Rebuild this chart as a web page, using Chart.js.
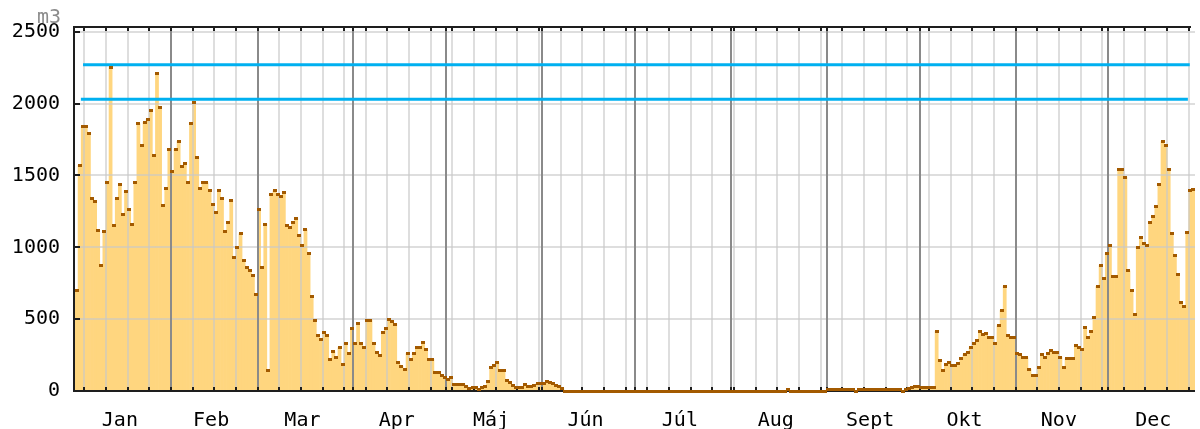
<!DOCTYPE html>
<html>
<head>
<meta charset="utf-8">
<script src="https://cdn.jsdelivr.net/npm/chart.js@4.4.1/dist/chart.umd.min.js"></script>
<style>
  html, body { margin: 0; padding: 0; background: #fff; }
</style>
</head>
<body>
<canvas id="chartSpotreba" width="1200" height="429"></canvas>
<script>
// Popisky a členenie osi x
const months = ['Jan', 'Feb', 'Mar', 'Apr', 'Máj', 'Jún', 'Júl', 'Aug', 'Sept', 'Okt', 'Nov', 'Dec'];
const monthStarts = [0, 31, 59, 90, 120, 151, 181, 212, 243, 273, 304, 334, 365];
const yTicks = [0, 500, 1000, 1500, 2000, 2500];

// Denné hodnoty (m3) po mesiacoch
const jan = [700, 1570, 1840, 1840, 1790, 1340, 1320, 1120, 875, 1110, 1450, 2250, 1150, 1340, 1440, 1230,
  1390, 1260, 1160, 1450, 1860, 1710, 1870, 1890, 1950, 1640, 2210, 1970, 1290, 1410, 1680];
const feb = [1530, 1684, 1737, 1560, 1585, 1448, 1858, 2011, 1627, 1407, 1448, 1448, 1393, 1299, 1244, 1393,
  1340, 1107, 1175, 1324, 930, 999, 1093, 905, 861, 836, 806, 672];
const mar = [1260, 861, 1159, 140, 1370, 1393, 1370, 1354, 1379, 1152, 1139, 1175, 1203, 1081, 1014, 1122,
  960, 657, 493, 383, 355, 410, 385, 220, 273, 232, 302, 181, 330, 261, 438];
const apr = [330, 470, 328, 300, 488, 493, 332, 270, 248, 408, 437, 495, 483, 465, 195, 172, 151, 263, 220,
  263, 300, 300, 339, 286, 220, 220, 126, 126, 110, 94];
const maj = [80, 94, 44, 48, 48, 48, 30, 18, 25, 25, 11, 25, 34, 66, 162, 180, 195, 140, 140, 76, 57, 41, 25,
  25, 25, 48, 34, 30, 41, 53, 53];
const jun = [55, 64, 60, 50, 41, 30, 15, 0, 0, 0, 0, 0, 0, 0, 0, 0, 0, 0, 0, 0, 0, 0, 0, 0, 0, 0, 0, 0, 0, 0];
const jul = [0, 0, 0, 0, 0, 0, 0, 0, 0, 0, 0, 0, 0, 0, 0, 0, 0, 0, 0, 0, 0, 0, 0, 0, 0, 0, 0, 0, 0, 0, 0];
const aug = [0, 0, 0, 0, 0, 0, 0, 0, 0, 0, 0, 0, 0, 0, 0, 0, 0, 0, 8, 0, 0, 0, 0, 0, 0, 0, 0, 0, 0, 0, 0];
const sep = [10, 10, 10, 10, 10, 10, 10, 10, 10, 0, 10, 10, 10, 10, 10, 10, 10, 10, 10, 10, 10, 10, 10, 11, 0,
  10, 18, 23, 30, 34];
const okt = [23, 23, 23, 23, 23, 415, 213, 144, 183, 195, 179, 179, 190, 224, 252, 270, 300, 332, 350, 415,
  396, 401, 373, 373, 332, 453, 561, 729, 385, 373, 369];
const nov = [263, 252, 231, 231, 153, 110, 110, 167, 252, 236, 259, 282, 266, 266, 236, 167, 224, 224, 224,
  316, 305, 289, 442, 373, 415, 510, 729, 873, 786, 958];
const dec = [1010, 797, 797, 1542, 1542, 1489, 836, 698, 533, 996, 1065, 1026, 1014, 1175, 1216, 1285, 1434,
  1736, 1706, 1542, 1095, 946, 808, 618, 589, 1106, 1393, 1404];

// Limitné čiary
const limitHigh = 2270;
const limitLow = 2030;
const limitHighDays = [2.6, 360.3];
const limitLowDays = [1.9, 359.7];

const dayValues = [].concat(jan, feb, mar, apr, maj, jun, jul, aug, sep, okt, nov, dec);
const dayPoints = dayValues.map((v, i) => ({ x: i + 0.5, y: v }));

// týždenné čiary (každý 7. deň od 4. januára)
const weekLines = [];
for (let d = 3; d <= dayValues.length; d += 7) weekLines.push(d);
const monthMids = months.map((m, i) => (monthStarts[i] + monthStarts[i + 1]) / 2 - 1);

const axisFont = { family: "'DejaVu Sans Mono', monospace", size: 20 };

// značka na vrchu stĺpca
const marker = document.createElement('canvas');
marker.width = 4;
marker.height = 3;
const mctx = marker.getContext('2d');
mctx.fillStyle = '#a35a00';
mctx.fillRect(0, 0, 4, 3);

const mriezka = {
    id: 'mriezka',
    afterDatasetDraw(chart, args) {
        if (args.index !== 0) return;
        const { ctx, chartArea: a, scales: { x, y } } = chart;
        const line = (x1, y1, x2, y2) => {
            ctx.beginPath(); ctx.moveTo(x1, y1); ctx.lineTo(x2, y2); ctx.stroke();
        };
        ctx.save();
        ctx.lineWidth = 2;
        ctx.strokeStyle = 'rgba(200, 200, 200, 0.6)';
        weekLines.forEach(d => { const px = Math.round(x.getPixelForValue(d)); line(px, a.top, px, a.bottom); });
        yTicks.slice(1).forEach(v => { const py = Math.round(y.getPixelForValue(v)); line(a.left, py, a.right, py); });

        ctx.strokeStyle = '#8a8a8a';
        monthStarts.slice(1, 12).forEach(d => {
            const px = Math.round(x.getPixelForValue(d)); line(px, a.top, px, a.bottom);
        });

        // rám a vnútorné značky
        ctx.strokeStyle = '#1e1e1e';
        line(a.left - 1, a.top - 1, a.left - 1, a.bottom + 1);
        line(a.left - 2, a.top, a.right - 4, a.top);
        line(a.left - 2, a.bottom, a.right, a.bottom);
        weekLines.concat(monthStarts.slice(1, 12)).forEach(d => {
            const px = Math.round(x.getPixelForValue(d));
            line(px, a.bottom, px, a.bottom - 4);
            line(px, a.top, px, a.top + 4);
        });
        yTicks.forEach(v => {
            const py = Math.round(y.getPixelForValue(v));
            line(a.left, py, a.left + 5, py);
        });
        ctx.restore();
    },
    afterDraw(chart) {
        const ctx = chart.ctx;
        ctx.save();
        ctx.font = "20px 'DejaVu Sans Mono', monospace";
        ctx.fillStyle = '#8c8c8c';
        ctx.textAlign = 'right';
        ctx.textBaseline = 'alphabetic';
        ctx.fillText('m3', 61, 23);
        ctx.restore();
    }
};

new Chart(document.getElementById('chartSpotreba'), {
    data: {
        datasets: [
            {
                type: 'bar',
                data: dayPoints,
                backgroundColor: '#ffd67f',
                borderWidth: 0,
                barPercentage: 1,
                categoryPercentage: 1,
                order: 3
            },
            {
                type: 'line',
                data: dayPoints,
                showLine: false,
                pointStyle: marker,
                clip: false,
                order: 0
            },
            {
                type: 'line',
                data: limitHighDays.map(d => ({ x: d, y: limitHigh })),
                borderColor: '#00b0f0',
                borderWidth: 3,
                pointRadius: 0,
                order: 1
            },
            {
                type: 'line',
                data: limitLowDays.map(d => ({ x: d, y: limitLow })),
                borderColor: '#00b0f0',
                borderWidth: 3,
                pointRadius: 0,
                order: 1
            }
        ]
    },
    options: {
        responsive: false,
        animation: false,
        events: [],
        layout: { padding: { top: 23, right: 0.5, left: 0, bottom: 0 } },
        plugins: { legend: { display: false }, tooltip: { enabled: false } },
        scales: {
            x: {
                type: 'linear',
                offset: false,
                min: 0,
                max: dayValues.length,
                afterFit: s => { s.height = 38; },
                afterBuildTicks: s => { s.ticks = monthMids.map(v => ({ value: v })); },
                grid: { display: false, drawTicks: false, offset: false },
                border: { display: false },
                ticks: {
                    autoSkip: false,
                    maxRotation: 0,
                    padding: 18,
                    color: '#000',
                    font: axisFont,
                    callback: (v, i) => months[i]
                }
            },
            y: {
                min: 0,
                max: 2533,
                afterFit: s => { s.width = 75; },
                afterBuildTicks: s => { s.ticks = yTicks.map(v => ({ value: v })); },
                grid: { display: false, drawTicks: false },
                border: { display: false },
                ticks: { padding: 15, color: '#000', font: axisFont, callback: v => String(v) }
            }
        }
    },
    plugins: [mriezka]
});
</script>
</body>
</html>
